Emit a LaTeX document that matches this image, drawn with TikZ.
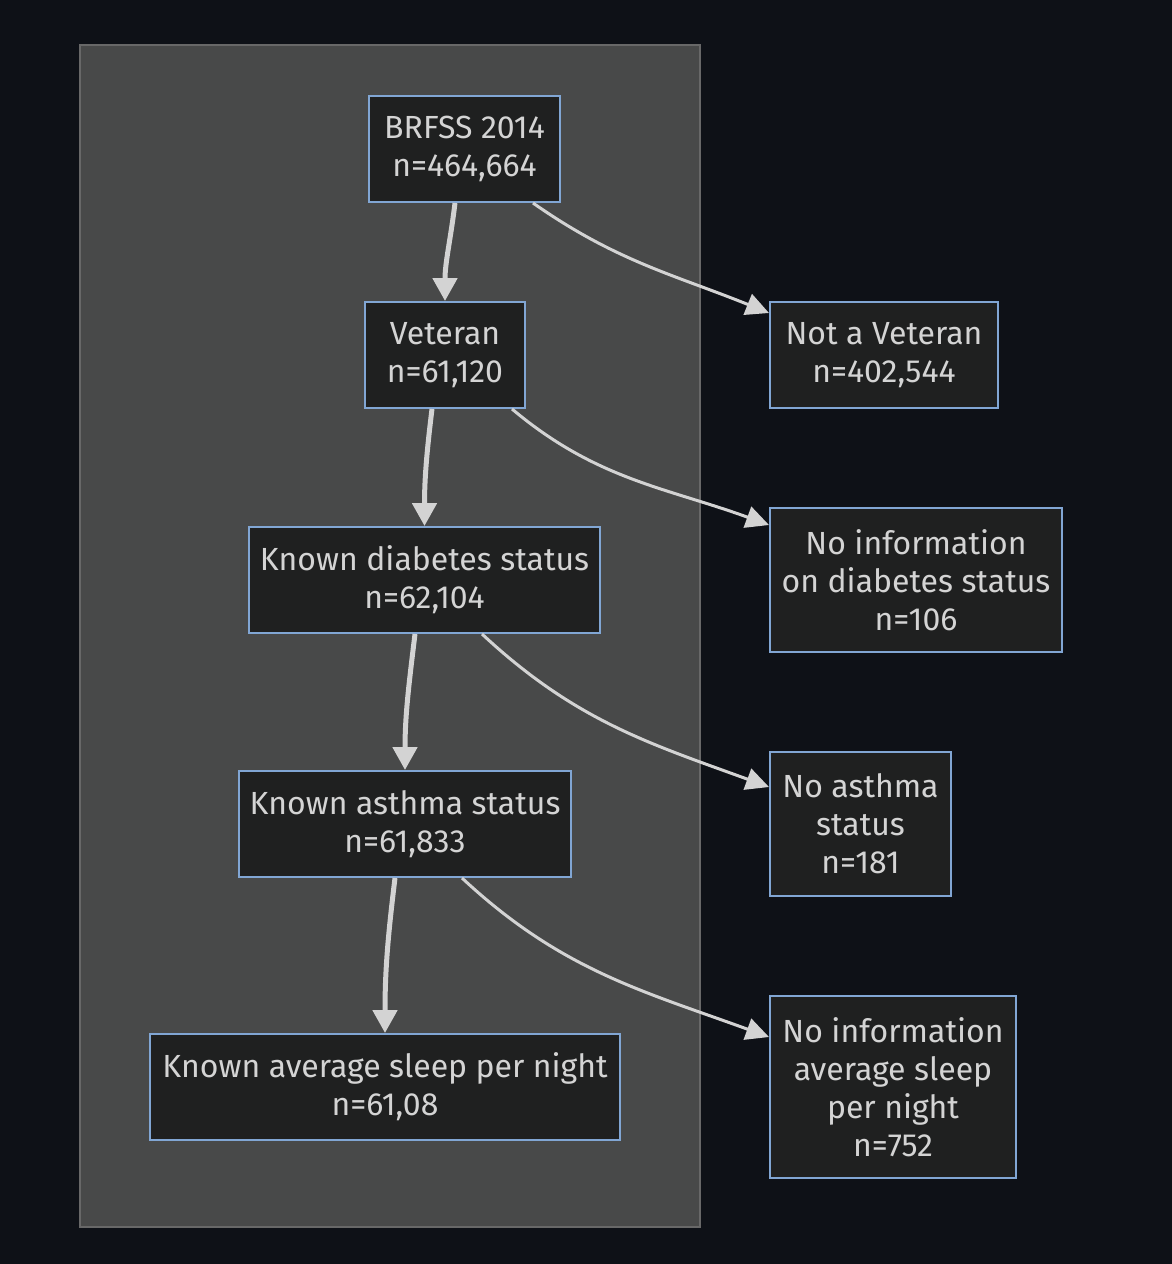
\documentclass[tikz,border=0pt]{standalone}
\usepackage{fontspec}
\setmainfont{Fira Sans}
\usetikzlibrary{arrows.meta}

\definecolor{pagebg}{RGB}{14,17,23}
\definecolor{groupbg}{RGB}{72,73,73}
\definecolor{groupline}{RGB}{104,104,104}
\definecolor{boxbg}{RGB}{31,32,32}
\definecolor{boxline}{RGB}{129,166,212}
\definecolor{inktext}{RGB}{212,212,212}
\definecolor{inkline}{RGB}{211,211,211}

\begin{document}
\begin{tikzpicture}[x=1pt,
					y=1pt,
					main node/.style={rectangle,draw=boxline,line width=2pt,fill=boxbg,
						text=inktext,align=center,inner sep=0pt,
						font=\fontsize{32}{38}\selectfont},
					main edge/.style={draw=inkline,line width=5pt,
						-{Triangle[length=23pt,width=24pt]}},
					side edge/.style={draw=inkline,line width=3pt,
						-{Triangle[length=23pt,width=22pt]}}]

  \useasboundingbox[fill=pagebg] (0,0) rectangle (1172,-1264);
  \draw[groupline,fill=groupbg,line width=2pt] (80,-45) rectangle (700,-1227);

  \node[main node,minimum width=191,minimum height=106] (brfss) at (464.5,-149) {BRFSS 2014\\n=464,664};
  \node[main node,minimum width=160,minimum height=106] (vet) at (445,-355) {Veteran\\n=61,120};
  \node[main node,minimum width=351,minimum height=106] (diab) at (424.5,-580) {Known diabetes status\\n=62,104};
  \node[main node,minimum width=332,minimum height=106] (asthma) at (405,-824) {Known asthma status\\n=61,833};
  \node[main node,minimum width=470,minimum height=106] (sleep) at (385,-1087) {Known average sleep per night\\n=61,08};

  \node[main node,minimum width=228,minimum height=106] (novet) at (884,-355) {Not a Veteran\\n=402,544};
  \node[main node,minimum width=292,minimum height=144] (nodiab) at (916,-580) {No information\\on diabetes status\\n=106};
  \node[main node,minimum width=181,minimum height=144] (noasthma) at (860.5,-824) {No asthma\\status\\n=181};
  \node[main node,minimum width=246,minimum height=182] (nosleep) at (893,-1087) {No information\\average sleep\\per night\\n=752};

  \path
    ([xshift=-9.5pt]brfss.south) edge[main edge,out=-97,in=90] (vet.north)
    ([xshift=68.5pt]brfss.south) edge[side edge,out=-35,in=158] ([yshift=42pt]novet.west)
    ([xshift=-13pt]vet.south) edge[main edge,out=-97,in=90] (diab.north)
    ([xshift=67pt]vet.south) edge[side edge,out=-40,in=160] ([yshift=55pt]nodiab.west)
    ([xshift=-9.5pt]diab.south) edge[main edge,out=-97,in=90] (asthma.north)
    ([xshift=57.5pt]diab.south) edge[side edge,out=-43,in=160] ([yshift=37pt]noasthma.west)
    ([xshift=-10pt]asthma.south) edge[main edge,out=-97,in=90] (sleep.north)
    ([xshift=57pt]asthma.south) edge[side edge,out=-43,in=160] ([yshift=50pt]nosleep.west);
\end{tikzpicture}
\end{document}
